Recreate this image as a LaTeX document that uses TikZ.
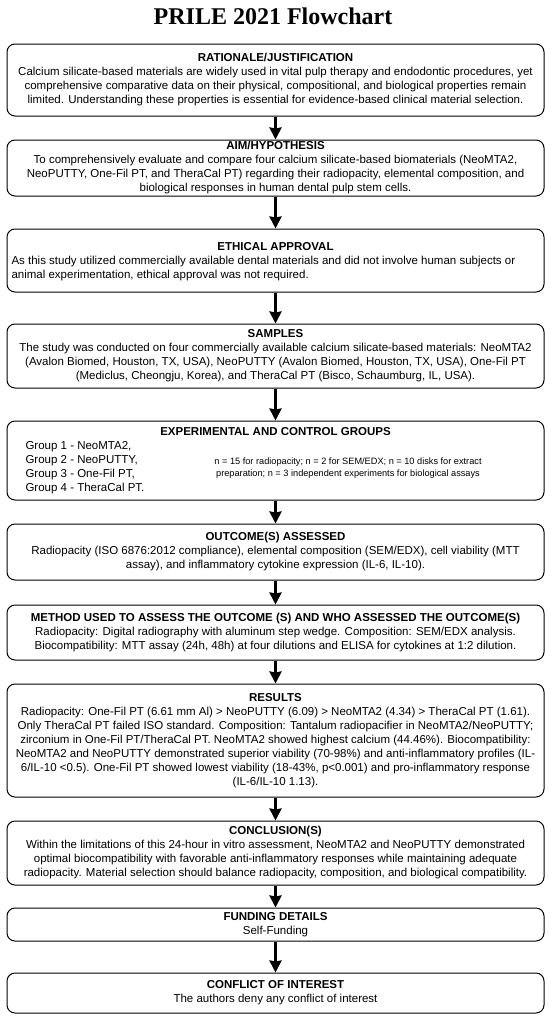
\documentclass[tikz,border=0pt]{standalone}
\usepackage{fontspec}
\setmainfont{Liberation Sans}
\newfontfamily\titlefont{Liberation Serif}
\usetikzlibrary{arrows.meta,positioning}

\tikzset{
  box/.style={draw, rounded corners=8pt, line width=1pt, minimum width=537pt,
    align=center, inner sep=1pt, font=\fontsize{11.5}{14}\selectfont},
  head/.style={font=\fontsize{11.5}{14}\selectfont\bfseries, inner sep=0pt},
  flow/.style={-{Stealth[length=12pt,width=12pt,inset=1pt]}, line width=3pt},
}

\begin{document}
\begin{tikzpicture}[x=1pt,y=-1pt]
  \useasboundingbox (0,0) rectangle (550,1020);
  \node[font=\titlefont\bfseries\fontsize{24}{28}\selectfont] (title) at (273,16) {PRILE 2021 Flowchart};

  % boxes, top to bottom
  \node[box, minimum height=72pt] (rat) at (275.5,80) {\textbf{RATIONALE/JUSTIFICATION}\\
    Calcium silicate-based materials are widely used in vital pulp therapy and endodontic procedures, yet\\
    comprehensive comparative data on their physical, compositional, and biological properties remain\\
    limited. Understanding these properties is essential for evidence-based clinical material selection.};
  \node[box, minimum height=56pt] (aim) at (275.5,168) {\textbf{AIM/HYPOTHESIS}\\
    To comprehensively evaluate and compare four calcium silicate-based biomaterials (NeoMTA2,\\
    NeoPUTTY, One-Fil PT, and TheraCal PT) regarding their radiopacity, elemental composition, and\\
    biological responses in human dental pulp stem cells.};
  \node[box, minimum height=63pt] (eth) at (275.5,260.5) {};
  \node[head] (ethhead) at (275.5,247) {ETHICAL APPROVAL};
  \node[anchor=west, align=left, font=\fontsize{11.5}{14}\selectfont] (ethtxt) at (8,269) {As this study utilized commercially available dental materials and did not involve human subjects or\\
    animal experimentation, ethical approval was not required.};
  \node[box, minimum height=64pt] (sam) at (275.5,356) {\textbf{SAMPLES}\\
    The study was conducted on four commercially available calcium silicate-based materials: NeoMTA2\\
    (Avalon Biomed, Houston, TX, USA), NeoPUTTY (Avalon Biomed, Houston, TX, USA), One-Fil PT\\
    (Mediclus, Cheongju, Korea), and TheraCal PT (Bisco, Schaumburg, IL, USA).};
  \node[box, minimum height=79pt] (grp) at (275.5,460.5) {};
  \node[head] (grphead) at (275.5,432) {EXPERIMENTAL AND CONTROL GROUPS};
  \node[anchor=west, align=left, font=\fontsize{11.5}{14}\selectfont] (grplist) at (22,467.5) {Group 1 - NeoMTA2,\\
    Group 2 - NeoPUTTY,\\ Group 3 - One-Fil PT,\\ Group 4 - TheraCal PT.};
  \node[align=center, font=\fontsize{9.2}{12}\selectfont] (grpn) at (348,468.5) {n = 15 for radiopacity; n = 2 for SEM/EDX; n = 10 disks for extract\\
    preparation; n = 3 independent experiments for biological assays};
  \node[box, minimum height=56pt] (out) at (275.5,552) {\textbf{OUTCOME(S) ASSESSED}\\
    Radiopacity (ISO 6876:2012 compliance), elemental composition (SEM/EDX), cell viability (MTT\\
    assay), and inflammatory cytokine expression (IL-6, IL-10).};
  \node[box, minimum height=55pt] (met) at (275.5,632.5) {\textbf{METHOD USED TO ASSESS THE OUTCOME (S) AND WHO ASSESSED THE OUTCOME(S)}\\
    Radiopacity: Digital radiography with aluminum step wedge. Composition: SEM/EDX analysis.\\
    Biocompatibility: MTT assay (24h, 48h) at four dilutions and ELISA for cytokines at 1:2 dilution.};
  \node[box, minimum height=113pt] (res) at (275.5,740.5) {\textbf{RESULTS}\\
    Radiopacity: One-Fil PT (6.61 mm Al) > NeoPUTTY (6.09) > NeoMTA2 (4.34) > TheraCal PT (1.61).\\
    Only TheraCal PT failed ISO standard. Composition: Tantalum radiopacifier in NeoMTA2/NeoPUTTY;\\
    zirconium in One-Fil PT/TheraCal PT. NeoMTA2 showed highest calcium (44.46\%). Biocompatibility:\\
    NeoMTA2 and NeoPUTTY demonstrated superior viability (70-98\%) and anti-inflammatory profiles (IL-\\
    6/IL-10 <0.5). One-Fil PT showed lowest viability (18-43\%, p<0.001) and pro-inflammatory response\\
    (IL-6/IL-10 1.13).};
  \node[box, minimum height=64pt] (con) at (275.5,853) {\textbf{CONCLUSION(S)}\\
    Within the limitations of this 24-hour in vitro assessment, NeoMTA2 and NeoPUTTY demonstrated\\
    optimal biocompatibility with favorable anti-inflammatory responses while maintaining adequate\\
    radiopacity. Material selection should balance radiopacity, composition, and biological compatibility.};
  \node[box, minimum height=33pt] (fun) at (275.5,924.5) {\textbf{FUNDING DETAILS}\\ Self-Funding};
  \node[box, minimum height=40pt] (coi) at (275.5,993) {\textbf{CONFLICT OF INTEREST}\\ The authors deny any conflict of interest};

  % arrows
  \draw[flow] (rat) -- (aim);
  \draw[flow] (aim) -- (eth);
  \draw[flow] (eth) -- (sam);
  \draw[flow] (sam) -- (grp);
  \draw[flow] (grp) -- (out);
  \draw[flow] (out) -- (met);
  \draw[flow] (met) -- (res);
  \draw[flow] (res) -- (con);
  \draw[flow] (con) -- (fun);
  \draw[flow] (fun) -- (coi);
\end{tikzpicture}
\end{document}
